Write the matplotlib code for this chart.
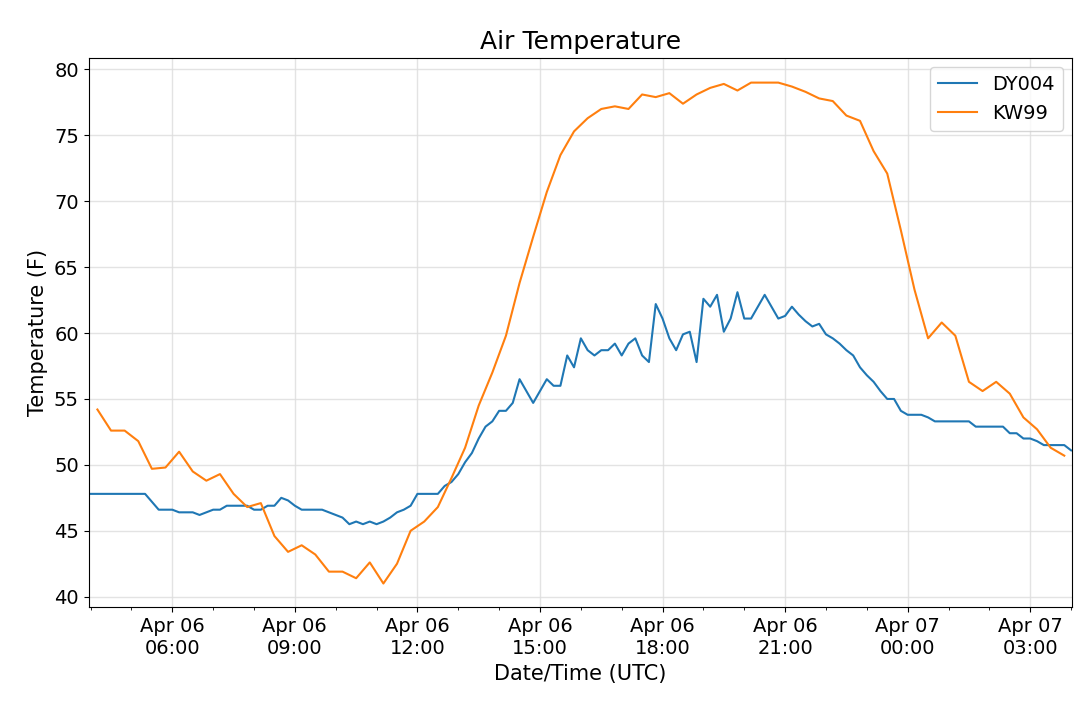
import numpy as np
import pandas as pd
import matplotlib
matplotlib.use('Agg')
import matplotlib.pyplot as plt
import matplotlib.dates as mdates

# DY004, 10-minute readings from 2019-04-06 04:00 UTC
dy004 = [47.8] * 9 + [
    47.2, 46.6, 46.6, 46.6, 46.4, 46.4, 46.4, 46.2, 46.4, 46.6, 46.6, 46.9, 46.9, 46.9, 46.9,
    46.6, 46.6, 46.9, 46.9, 47.5, 47.3, 46.9, 46.6, 46.6, 46.6, 46.6, 46.4, 46.2, 46.0, 45.5,
    45.7, 45.5, 45.7, 45.5, 45.7, 46.0, 46.4, 46.6, 46.9, 47.8, 47.8, 47.8, 47.8, 48.4, 48.7,
    49.3, 50.2, 50.9, 52.0, 52.9, 53.3, 54.1, 54.1, 54.7, 56.5, 55.6, 54.7, 55.6, 56.5, 56.0,
    56.0, 58.3, 57.4, 59.6, 58.7, 58.3, 58.7, 58.7, 59.2, 58.3, 59.2, 59.6, 58.3, 57.8, 62.2,
    61.1, 59.6, 58.7, 59.9, 60.1, 57.8, 62.6, 62.0, 62.9, 60.1, 61.1, 63.1, 61.1, 61.1, 62.0,
    62.9, 62.0, 61.1, 61.3, 62.0, 61.4, 60.9, 60.5, 60.7, 59.9, 59.6, 59.2, 58.7, 58.3, 57.4,
    56.8, 56.3, 55.6, 55.0, 55.0, 54.1, 53.8, 53.8, 53.8, 53.6, 53.3, 53.3, 53.3, 53.3, 53.3,
    53.3, 52.9, 52.9, 52.9, 52.9, 52.9, 52.4, 52.4, 52.0, 52.0, 51.8, 51.5, 51.5, 51.5, 51.5,
    51.1]
t_dy = pd.date_range('2019-04-06 04:00', periods=len(dy004), freq='10min')

# KW99, 20-minute readings from 04:10 UTC
kw99 = [
    54.2, 52.6, 52.6, 51.8, 49.7, 49.8, 51.0, 49.5, 48.8, 49.3, 47.8, 46.8, 47.1, 44.6, 43.4,
    43.9, 43.2, 41.9, 41.9, 41.4, 42.6, 41.0, 42.5, 45.0, 45.7, 46.8, 49.0, 51.3, 54.5, 57.0,
    59.8, 63.8, 67.3, 70.7, 73.5, 75.3, 76.3, 77.0, 77.2, 77.0, 78.1, 77.9, 78.2, 77.4, 78.1,
    78.6, 78.9, 78.4, 79.0, 79.0, 79.0, 78.7, 78.3, 77.8, 77.6, 76.5, 76.1, 73.8, 72.1, 67.8,
    63.3, 59.6, 60.8, 59.8, 56.3, 55.6, 56.3, 55.4, 53.6, 52.7, 51.3, 50.7]
t_kw = pd.date_range('2019-04-06 04:10', periods=len(kw99), freq='20min')

fig, ax = plt.subplots(figsize=(10.8, 7.02), dpi=100)
ax.plot(t_dy, dy004, color='#1f77b4', lw=1.5, label='DY004')
ax.plot(t_kw, kw99, color='#ff7f0e', lw=1.5, label='KW99')

ax.set_xlim(pd.Timestamp('2019-04-06 03:57'), pd.Timestamp('2019-04-07 04:02'))
ax.set_ylim(39.2, 80.9)
ax.xaxis.set_major_locator(mdates.HourLocator(byhour=[0, 3, 6, 9, 12, 15, 18, 21]))
ax.xaxis.set_minor_locator(mdates.HourLocator())
ax.xaxis.set_major_formatter(mdates.DateFormatter('%b %d\n%H:%M'))
ax.grid(True, which='major', color='#dddddd', lw=1, alpha=0.8)
ax.tick_params(labelsize=14)
ax.set_title('Air Temperature', fontsize=18)
ax.set_xlabel('Date/Time (UTC)', fontsize=15)
ax.set_ylabel('Temperature (F)', fontsize=15)
ax.legend(fontsize=14, loc='upper right')

plt.subplots_adjust(left=0.082, right=0.993, top=0.918, bottom=0.135)
fig.savefig('out.png', dpi=100)
